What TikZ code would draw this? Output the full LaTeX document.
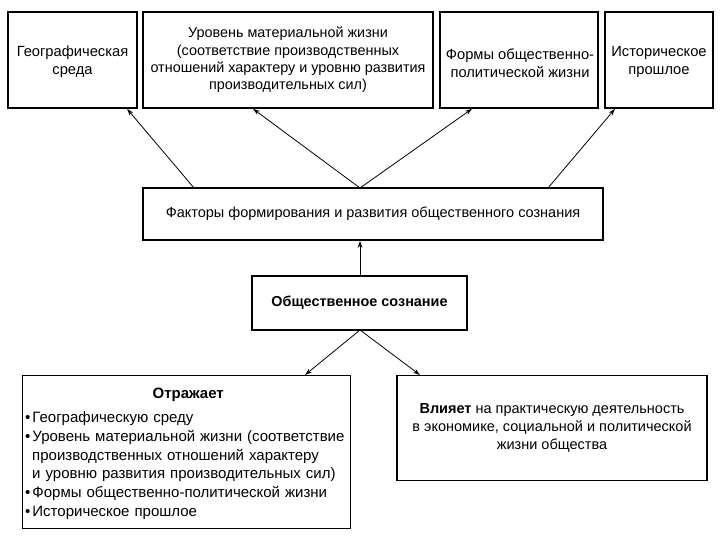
\documentclass[tikz,border=0pt]{standalone}
\usepackage{fontspec}
\setmainfont{Liberation Sans}
\usetikzlibrary{arrows.meta}
\begin{document}
\begin{tikzpicture}[x=1pt,y=-1pt,
  box/.style={draw=black,line width=1.6pt,inner sep=0pt,fill=white},
  txt/.style={font=\fontsize{14.7}{18.3}\selectfont,align=center,inner sep=0pt},
  conn/.style={line width=0.8pt,-{Stealth[length=7pt,width=4.5pt]}}]
\useasboundingbox (0,0) rectangle (720,540);
% top boxes
\node[box,minimum width=129pt,minimum height=96pt] (b1) at (72.5,60) {};
\node[box,minimum width=290pt,minimum height=96pt] (b2) at (288,60) {};
\node[box,minimum width=158pt,minimum height=96pt] (b3) at (519,60) {};
\node[box,minimum width=108pt,minimum height=96pt] (b4) at (659,60) {};
\node[txt] (t1) at (72.5,61.5) {Географическая\\среда};
\node[txt,font=\fontsize{14.4}{17.3}\selectfont] (t2) at (288,60) {Уровень материальной жизни\\(соответствие производственных\\отношений характеру и уровню развития\\производительных сил)};
\node[txt] (t3) at (520,63) {Формы общественно-\\политической жизни};
\node[txt] (t4) at (659,62) {Историческое\\прошлое};
% factors
\node[box,minimum width=460pt,minimum height=52pt,font=\fontsize{14.5}{17}\selectfont] (f) at (373,214) {Факторы формирования и развития общественного сознания};
% center
\node[box,minimum width=215pt,minimum height=54pt,font=\fontsize{14.4}{17}\selectfont\bfseries] (c) at (359.5,303) {Общественное сознание};
% bottom boxes
\node[box,minimum width=328pt,minimum height=153pt] (o) at (186.5,452) {};
\node[inner sep=0pt,text width=326pt,anchor=north west,font=\fontsize{15}{18.8}\selectfont] (ot) at (25,388) {%
{\centering\bfseries Отражает\par}
\vspace{5pt}
\raggedright
\hangindent=7pt\hangafter=1 \textbullet\hspace{2pt}Географическую среду\par
\hangindent=7pt\hangafter=1 \textbullet\hspace{2pt}Уровень материальной жизни (соответствие\newline производственных отношений характеру\newline и уровню развития производительных сил)\par
\hangindent=7pt\hangafter=1 \textbullet\hspace{2pt}Формы общественно-политической жизни\par
\hangindent=7pt\hangafter=1 \textbullet\hspace{2pt}Историческое прошлое\par};
\node[box,minimum width=310pt,minimum height=105pt,align=center,font=\fontsize{14.5}{18}\selectfont] (v) at (552,428) {\textbf{Влияет} на практическую деятельность\\в экономике, социальной и политической\\жизни общества};
% connectors
\coordinate (f1) at (194,188);
\coordinate (f2) at (360,188);
\coordinate (f4) at (548,188);
\draw[conn] (f1) -- (127,108.8);
\draw[conn] (f2) -- (253,108.8);
\draw[conn] (f2) -- (472,108.8);
\draw[conn] (f4) -- (615,108.8);
\draw[conn] (c.north -| f2) -- (f.south -| f2);
\coordinate (cb) at (360,330);
\draw[conn] (cb) -- (305,375);
\draw[conn] (cb) -- (420,375);
\end{tikzpicture}
\end{document}
